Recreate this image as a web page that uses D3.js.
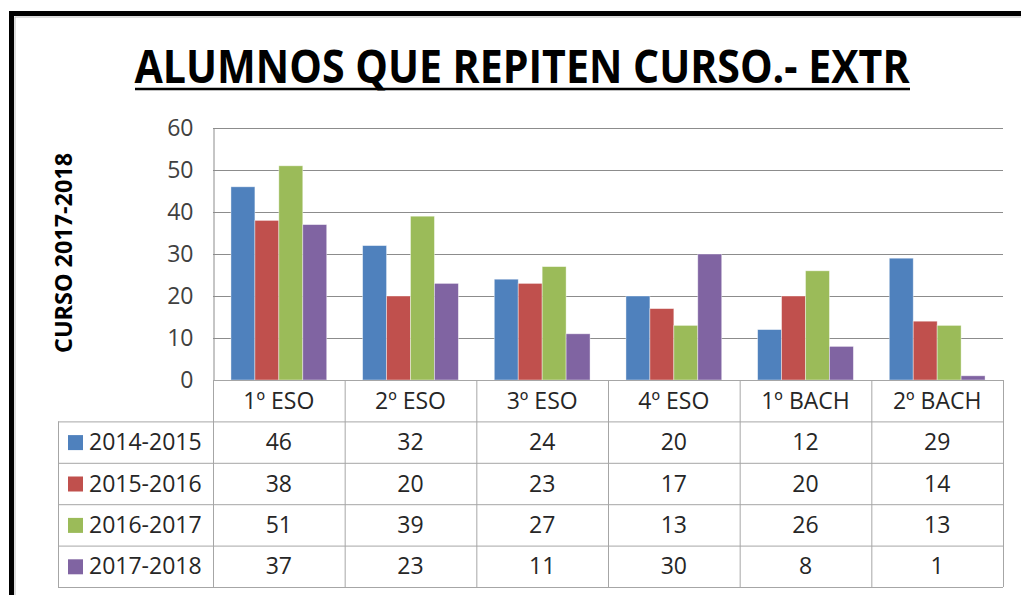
<!DOCTYPE html>
<html>
<head>
<meta charset="utf-8">
<script src="https://cdn.jsdelivr.net/npm/d3@7"></script>
<style>
  body { margin: 0; background: #fff; overflow: hidden; }
  text { font-family: "Open Sans", sans-serif; }
</style>
</head>
<body>
<div id="chart"></div>
<script>
const categories = ["1º ESO", "2º ESO", "3º ESO", "4º ESO", "1º BACH", "2º BACH"];
const seriesNames = ["2014-2015", "2015-2016", "2016-2017", "2017-2018"];
const values2014 = [46, 32, 24, 20, 12, 29];
const values2015 = [38, 20, 23, 17, 20, 14];
const values2016 = [51, 39, 27, 13, 26, 13];
const values2017 = [37, 23, 11, 30, 8, 1];
const yTicks = [0, 10, 20, 30, 40, 50, 60];
const colors = ["#4F81BD", "#C0504D", "#9BBB59", "#8064A2"];

const series = [values2014, values2015, values2016, values2017];

const width = 1021;
const height = 595;
const plotLeft = 213, plotRight = 1003, plotTop = 128, axisY = 380;
const rowH = 41.4;
const fontSize = 23;

const svg = d3.select("#chart")
  .append("svg")
  .attr("width", width)
  .attr("height", height)
  .style("display", "block");

// frame
svg.append("rect")
  .attr("x", 11.5).attr("y", 13.5)
  .attr("width", width + 20).attr("height", height + 20)
  .attr("fill", "none").attr("stroke", "#000").attr("stroke-width", 5);
svg.append("rect")
  .attr("x", 15).attr("y", 17)
  .attr("width", width + 20).attr("height", height + 20)
  .attr("fill", "none").attr("stroke", "#bbb").attr("stroke-width", 1);

// title
svg.append("text")
  .attr("x", 522).attr("y", 83)
  .attr("text-anchor", "middle")
  .attr("font-size", 47).attr("font-weight", "bold")
  .attr("textLength", 775).attr("lengthAdjust", "spacingAndGlyphs")
  .attr("fill", "#000")
  .text("ALUMNOS QUE REPITEN CURSO.- EXTR");
svg.append("line")
  .attr("x1", 135).attr("x2", 910).attr("y1", 89).attr("y2", 89)
  .attr("stroke", "#000").attr("stroke-width", 2.5);

const x0 = d3.scaleBand().domain(categories).range([plotLeft, plotRight]);
const x1 = d3.scaleBand().domain(seriesNames)
  .range([0, x0.bandwidth()]).paddingInner(0).paddingOuter(0.75);
const y = d3.scaleLinear().domain([0, 60]).range([axisY, plotTop]);

// gridlines
svg.append("g")
  .selectAll("line")
  .data(yTicks)
  .enter()
  .append("line")
  .attr("x1", plotLeft).attr("x2", plotRight)
  .attr("y1", d => y(d) + 0.5).attr("y2", d => y(d) + 0.5)
  .attr("stroke", "#8c8c8c").attr("stroke-width", 1);

// y axis
const yAxis = svg.append("g")
  .attr("transform", `translate(${plotLeft + 0.5},0)`)
  .call(d3.axisLeft(y).tickValues(yTicks).tickSize(0).tickPadding(20));
yAxis.select(".domain").attr("stroke", "#8c8c8c");
yAxis.selectAll("text")
  .attr("font-size", fontSize).attr("fill", "#404040")
  .style("font-family", "'Open Sans', sans-serif");

svg.append("text")
  .attr("transform", "translate(72,253) rotate(-90)")
  .attr("text-anchor", "middle")
  .attr("font-size", 23).attr("font-weight", "bold")
  .attr("textLength", 200).attr("lengthAdjust", "spacingAndGlyphs")
  .attr("fill", "#000")
  .text("CURSO 2017-2018");

// bars
svg.append("g")
  .selectAll("g")
  .data(series)
  .enter()
  .append("g")
  .attr("fill", (d, i) => colors[i])
  .each(function(vals, si) {
    d3.select(this).selectAll("rect")
      .data(vals)
      .enter()
      .append("rect")
      .attr("x", (d, ci) => x0(categories[ci]) + x1(seriesNames[si]))
      .attr("y", d => y(d))
      .attr("width", x1.bandwidth())
      .attr("height", d => axisY - y(d))
      .attr("stroke", "rgba(255,255,255,0.5)")
      .attr("stroke-width", 0.8);
  });

// data table
const table = svg.append("g");
const tableLeft = 58;
const tableBottom = axisY + rowH * 5;
const lineColor = "#a6a6a6";

// horizontal lines
table.selectAll("line.h")
  .data(d3.range(6))
  .enter()
  .append("line")
  .attr("class", "h")
  .attr("x1", d => d === 0 ? plotLeft : tableLeft)
  .attr("x2", plotRight)
  .attr("y1", d => axisY + d * rowH + 0.5)
  .attr("y2", d => axisY + d * rowH + 0.5)
  .attr("stroke", lineColor);

// vertical lines
table.append("line")
  .attr("x1", tableLeft + 0.5).attr("x2", tableLeft + 0.5)
  .attr("y1", axisY + rowH).attr("y2", tableBottom)
  .attr("stroke", lineColor);
table.selectAll("line.v")
  .data(categories.concat(["end"]))
  .enter()
  .append("line")
  .attr("class", "v")
  .attr("x1", (d, i) => (i < categories.length ? x0(d) : plotRight) + 0.5)
  .attr("x2", (d, i) => (i < categories.length ? x0(d) : plotRight) + 0.5)
  .attr("y1", axisY).attr("y2", tableBottom)
  .attr("stroke", lineColor);

// category header
table.selectAll("text.cat")
  .data(categories)
  .enter()
  .append("text")
  .attr("class", "cat")
  .attr("x", d => x0(d) + x0.bandwidth() / 2)
  .attr("y", axisY + rowH / 2 + 8)
  .attr("text-anchor", "middle")
  .attr("font-size", fontSize).attr("fill", "#262626")
  .text(d => d);

// series rows
seriesNames.forEach((name, si) => {
  const rowY = axisY + rowH * (si + 1);
  table.append("rect")
    .attr("x", 68).attr("y", rowY + rowH / 2 - 7)
    .attr("width", 15).attr("height", 15)
    .attr("fill", colors[si]);
  table.append("text")
    .attr("x", 89).attr("y", rowY + rowH / 2 + 8)
    .attr("font-size", fontSize).attr("fill", "#262626")
    .text(name);
  table.selectAll(null)
    .data(series[si])
    .enter()
    .append("text")
    .attr("x", (d, ci) => x0(categories[ci]) + x0.bandwidth() / 2)
    .attr("y", rowY + rowH / 2 + 8)
    .attr("text-anchor", "middle")
    .attr("font-size", fontSize).attr("fill", "#262626")
    .text(d => d);
});
</script>
</body>
</html>
